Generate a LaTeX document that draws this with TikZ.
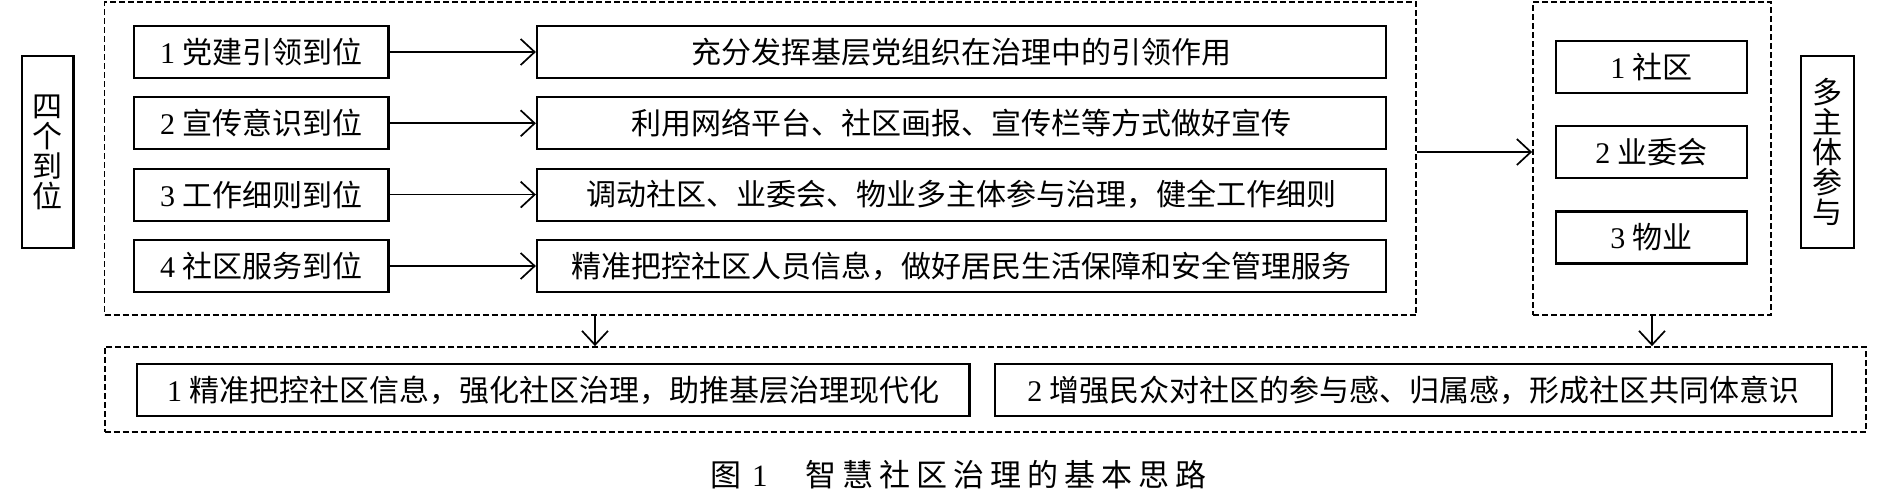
\documentclass[tikz,border=0pt]{standalone}
\usepackage{fontspec}
\setmainfont{Noto Sans CJK SC}
\newfontfamily\lat{Liberation Serif}
\usetikzlibrary{arrows.meta,calc}
\newcommand\dg[1]{{\lat #1\ }}
\begin{document}
\begin{tikzpicture}[x=1pt,y=-1pt,
  solidbox/.style={draw, line width=2.2pt, inner sep=0pt, minimum height=52pt, font=\fontsize{30}{30}\selectfont},
  dashbox/.style={draw, line width=1.8pt, dash pattern=on 6pt off 3pt, inner sep=0pt},
  vbox/.style={draw, line width=2.2pt, inner sep=0pt, minimum height=192pt, align=center, font=\fontsize{30}{30}\selectfont},
  arr/.style={-{Straight Barb[length=14pt,width=26pt,line width=1.7pt]}, line width=1.7pt}
]
\useasboundingbox (0,0) rectangle (1896,499);
% dashed groups
\node[dashbox, minimum width=1311.5pt, minimum height=313pt] (D1) at (760.25,158.5) {};
\node[dashbox, minimum width=238pt, minimum height=313pt] (D2) at (1652,158.5) {};
\node[dashbox, minimum width=1761.4pt, minimum height=85pt] (D3) at (985.3,389.5) {};
% side labels
\node[vbox, minimum width=51.5pt] (S1) at (47.75,152) {四\\个\\到\\位};
\node[vbox, minimum width=53pt] (S2) at (1827.5,152) {多\\主\\体\\参\\与};
% left column
\node[solidbox, minimum width=254.5pt] (L1) at (261.25,52) {\dg{1}党建引领到位};
\node[solidbox, minimum width=254.5pt] (L2) at (261.25,123.3) {\dg{2}宣传意识到位};
\node[solidbox, minimum width=254.5pt] (L3) at (261.25,194.6) {\dg{3}工作细则到位};
\node[solidbox, minimum width=254.5pt] (L4) at (261.25,266) {\dg{4}社区服务到位};
% right column
\node[solidbox, minimum width=849pt] (R1) at (961.5,52) {充分发挥基层党组织在治理中的引领作用};
\node[solidbox, minimum width=849pt] (R2) at (961.5,123.3) {利用网络平台、社区画报、宣传栏等方式做好宣传};
\node[solidbox, minimum width=849pt] (R3) at (961.5,194.6) {调动社区、业委会、物业多主体参与治理，健全工作细则};
\node[solidbox, minimum width=849pt] (R4) at (961.5,266) {精准把控社区人员信息，做好居民生活保障和安全管理服务};
% middle column
\node[solidbox, minimum width=191pt] (M1) at (1651.5,67) {\dg{1}社区};
\node[solidbox, minimum width=191pt] (M2) at (1651.5,152) {\dg{2}业委会};
\node[solidbox, minimum width=191pt] (M3) at (1651.5,237.5) {\dg{3}物业};
% bottom
\node[solidbox, minimum width=832.5pt] (B1) at (553.25,390) {\dg{1}精准把控社区信息，强化社区治理，助推基层治理现代化};
\node[solidbox, minimum width=837pt] (B2) at (1413.5,390) {\dg{2}增强民众对社区的参与感、归属感，形成社区共同体意识};
% caption
\node[anchor=west, inner sep=0pt, font=\fontsize{31}{31}\selectfont] (cap) at (710,475)
  {图\hspace{11pt}{\lat 1}\hspace{38pt}智\hspace{6pt}慧\hspace{6pt}社\hspace{6pt}区\hspace{6pt}治\hspace{6pt}理\hspace{6pt}的\hspace{6pt}基\hspace{6pt}本\hspace{6pt}思\hspace{6pt}路};
% connectors
\foreach \i in {1,2,3,4} \draw[arr] (L\i.east) -- (R\i.west);
\draw[arr] (D1.east |- M2) -- (D2.west |- M2);
\coordinate (dn1) at (595,0);
\draw[arr] (D1.south -| dn1) -- (D3.north -| dn1);
\draw[arr] (D2.south) -- (D2.south |- D3.north);
\end{tikzpicture}
\end{document}
